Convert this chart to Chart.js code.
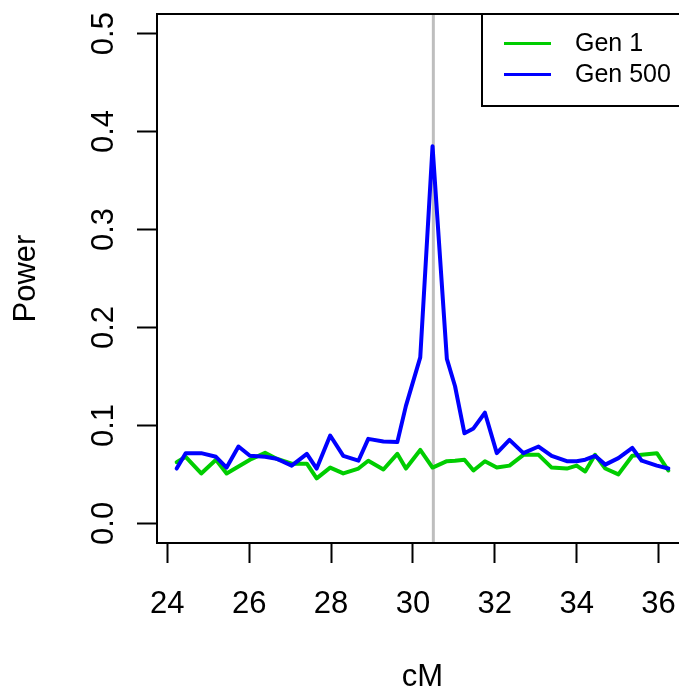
<!DOCTYPE html>
<html>
<head>
<meta charset="utf-8">
<script src="https://cdn.jsdelivr.net/npm/chart.js@4/dist/chart.umd.min.js"></script>
<style>
html,body{margin:0;padding:0;background:#fff;overflow:hidden;width:679px;height:690px;}
canvas{display:block;}
</style>
</head>
<body>
<canvas id="c" width="700" height="690" style="width:700px;height:690px"></canvas>
<script>
// ---- data ----
const cM = [24.23, 24.45, 24.83, 25.19, 25.45, 25.74, 26.02, 26.39, 26.67, 27.04,
            27.41, 27.65, 27.98, 28.30, 28.67, 28.91, 29.28, 29.62, 29.83, 30.18,
            30.48, 30.83, 31.03, 31.26, 31.48, 31.76, 32.05, 32.36, 32.70, 33.07,
            33.39, 33.76, 34.00, 34.21, 34.45, 34.70, 35.02, 35.36, 35.59, 35.96, 36.24];
const gen1 = [0.0625, 0.068, 0.051, 0.065, 0.051, 0.058, 0.065, 0.072, 0.066, 0.061,
              0.061, 0.046, 0.057, 0.051, 0.056, 0.064, 0.055, 0.071, 0.056, 0.075,
              0.057, 0.0635, 0.064, 0.065, 0.054, 0.0635, 0.057, 0.059, 0.070, 0.070,
              0.057, 0.056, 0.059, 0.053, 0.070, 0.056, 0.050, 0.069, 0.070, 0.0717, 0.054];
const gen500 = [0.056, 0.0717, 0.0717, 0.068, 0.057, 0.0785, 0.069, 0.068, 0.066, 0.059,
                0.071, 0.056, 0.0897, 0.069, 0.064, 0.0863, 0.0836, 0.083, 0.12, 0.1695,
                0.385, 0.168, 0.14, 0.092, 0.097, 0.113, 0.0717, 0.0853, 0.0717, 0.0785,
                0.069, 0.0635, 0.0635, 0.065, 0.069, 0.060, 0.0666, 0.077, 0.064, 0.059, 0.056];
const seriesNames = ['Gen 1', 'Gen 500'];
const xTicks = [24, 26, 28, 30, 32, 34, 36];
const yTicks = [0, 0.1, 0.2, 0.3, 0.4, 0.5];
const yTickLabels = ['0.0', '0.1', '0.2', '0.3', '0.4', '0.5'];
const qtlPosition = 30.5;
const xLabel = 'cM';
const yLabel = 'Power';

// ---- styling ----
const FONT = '"Liberation Sans", Arial, Helvetica, sans-serif';
const GREEN = '#00CD00';
const BLUE = '#0000FF';

const xRange = [cM[0], cM[cM.length - 1]];
const xPad = (xRange[1] - xRange[0]) * 0.04;
const yPad = (0.5 - 0) * 0.04;

const toPts = (ys) => cM.map((x, i) => ({x: x, y: ys[i]}));

const noPad = (s) => { s.paddingTop = 0; s.paddingBottom = 0; s.paddingLeft = 0; s.paddingRight = 0; };

const boxPlugin = {
  id: 'rbox',
  beforeDatasetsDraw(chart) {
    const {ctx, chartArea: a, scales} = chart;
    const x = scales.x.getPixelForValue(qtlPosition);
    ctx.save();
    ctx.strokeStyle = '#BEBEBE';
    ctx.lineWidth = 3;
    ctx.beginPath();
    ctx.moveTo(x, a.top);
    ctx.lineTo(x, a.bottom);
    ctx.stroke();
    ctx.restore();
  },
  afterDraw(chart) {
    const {ctx, chartArea: a} = chart;
    ctx.save();
    ctx.strokeStyle = '#000';
    ctx.lineWidth = 2;
    ctx.strokeRect(a.left, a.top, a.right - a.left, a.bottom - a.top);
    // legend (top-right, like R legend("topright"))
    const lx = a.right - 206, ly = a.top, lh = 92;
    ctx.fillStyle = '#fff';
    ctx.fillRect(lx, ly, a.right - lx, lh);
    ctx.strokeRect(lx, ly, a.right - lx, lh);
    ctx.font = '25px ' + FONT;
    ctx.textBaseline = 'middle';
    ctx.textAlign = 'left';
    chart.data.datasets.forEach((ds, i) => {
      const yy = ly + 29.5 + i * 31;
      ctx.strokeStyle = ds.borderColor;
      ctx.lineWidth = 3;
      ctx.beginPath();
      ctx.moveTo(lx + 22, yy);
      ctx.lineTo(lx + 69, yy);
      ctx.stroke();
      ctx.fillStyle = '#000';
      ctx.fillText(ds.label, lx + 93, yy + 1);
    });
    ctx.restore();
  }
};

new Chart(document.getElementById('c'), {
  type: 'line',
  data: {
    datasets: [
      {label: seriesNames[0], data: toPts(gen1), borderColor: GREEN, backgroundColor: GREEN,
       borderWidth: 4, pointRadius: 0, tension: 0, order: 1,
       borderJoinStyle: 'round', borderCapStyle: 'round'},
      {label: seriesNames[1], data: toPts(gen500), borderColor: BLUE, backgroundColor: BLUE,
       borderWidth: 4, pointRadius: 0, tension: 0, order: 0,
       borderJoinStyle: 'round', borderCapStyle: 'round'}
    ]
  },
  options: {
    responsive: false,
    animation: false,
    devicePixelRatio: 1,
    layout: {padding: {top: 14, right: 12, left: 0, bottom: 0}, autoPadding: false},
    plugins: {legend: {display: false}, tooltip: {enabled: false}},
    scales: {
      x: {
        type: 'linear',
        min: xRange[0] - xPad,
        max: xRange[1] + xPad,
        afterBuildTicks: (s) => { s.ticks = xTicks.map(v => ({value: v})); },
        afterFit: (s) => { s.height = 147; noPad(s); },
        ticks: {
          autoSkip: false, maxRotation: 0, minRotation: 0,
          color: '#000', padding: 23,
          font: {family: FONT, size: 31},
          callback: (v) => String(v)
        },
        grid: {display: true, drawOnChartArea: false, drawTicks: true, tickLength: 20,
               tickWidth: 2, tickColor: '#000'},
        border: {display: false},
        title: {display: true, text: xLabel, color: '#000',
                font: {family: FONT, size: 31, lineHeight: 1.2}, padding: {top: 0, bottom: -6}}
      },
      y: {
        type: 'linear',
        min: 0 - yPad,
        max: 0.5 + yPad,
        afterBuildTicks: (s) => { s.ticks = yTicks.map(v => ({value: v})); },
        afterFit: (s) => { s.width = 157; noPad(s); },
        ticks: {
          autoSkip: false, minRotation: 90, maxRotation: 90,
          crossAlign: 'center',
          color: '#000', padding: 11,
          font: {family: FONT, size: 31},
          callback: (v) => yTickLabels[yTicks.findIndex(t => Math.abs(t - v) < 1e-9)]
        },
        grid: {display: true, drawOnChartArea: false, drawTicks: true, tickLength: 20,
               tickWidth: 2, tickColor: '#000'},
        border: {display: false},
        title: {display: true, text: yLabel, color: '#000',
                font: {family: FONT, size: 31, lineHeight: 1.2}, padding: {top: 8, bottom: 0}}
      }
    }
  },
  plugins: [boxPlugin]
});
</script>
</body>
</html>
